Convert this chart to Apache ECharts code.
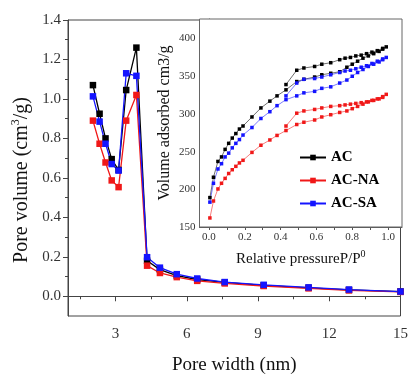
<!DOCTYPE html>
<html><head><meta charset="utf-8">
<script src="https://cdn.jsdelivr.net/npm/echarts@6/dist/echarts.min.js"></script>
<style>html,body{margin:0;padding:0;background:#fff}#c{width:411px;height:380px}</style>
</head><body><div id="c"></div>
<script>
// Main chart: pore size distribution
const seriesNames = ['AC', 'AC-NA', 'AC-SA'];
const poreWidth = [2.05, 2.33, 2.58, 2.84, 3.13, 3.45, 3.88, 4.33, 4.87, 5.58, 6.44, 7.6, 9.24, 11.13, 12.83, 15.0];
const poreAC   = [1.07, 0.925, 0.80, 0.695, 0.64, 1.045, 1.26, 0.18, 0.135, 0.105, 0.085, 0.07, 0.055, 0.043, 0.032, 0.024];
const poreNA   = [0.89, 0.773, 0.678, 0.587, 0.553, 0.89, 1.02, 0.155, 0.118, 0.097, 0.078, 0.065, 0.052, 0.04, 0.03, 0.022];
const poreSA   = [1.013, 0.885, 0.773, 0.67, 0.637, 1.13, 1.117, 0.198, 0.145, 0.112, 0.09, 0.072, 0.058, 0.045, 0.034, 0.024];
const mainXTicks = [3, 6, 9, 12, 15];
const mainXMinor = [1.5, 4.5, 7.5, 10.5, 13.5];
const mainYTicks = [0, 0.2, 0.4, 0.6, 0.8, 1.0, 1.2, 1.4];
const mainYMinor = [0.1, 0.3, 0.5, 0.7, 0.9, 1.1, 1.3];

// Inset: N2 isotherms (adsorption then desorption)
const adsP = [0.005, 0.025, 0.05, 0.07, 0.09, 0.11, 0.13, 0.15, 0.17, 0.19, 0.24, 0.29, 0.34, 0.38, 0.43, 0.49, 0.53, 0.59, 0.63, 0.68, 0.73, 0.77, 0.80, 0.83, 0.86, 0.89, 0.92, 0.95, 0.97, 0.99];
const desP = [0.97, 0.94, 0.91, 0.88, 0.85, 0.82, 0.79, 0.76, 0.73, 0.68, 0.63, 0.59, 0.53, 0.49, 0.43];
const adsAC = [189, 216, 237, 243, 253, 261, 268, 274, 280, 284, 296, 308, 317, 324, 332, 343, 346, 349, 352, 354, 356, 362, 366, 370, 374, 377, 380, 383, 386, 389];
const desAC = [387, 384, 382, 380, 378, 377, 375, 374, 372, 368, 366, 363, 361, 358, 339];
const adsNA = [162, 184.5, 200.5, 208, 214.5, 221, 226, 230.5, 235, 238.5, 249, 258.5, 265.5, 271.5, 278, 286, 289, 292, 296, 299, 302, 304, 307, 310, 313, 316, 318, 320, 322, 326];
const desNA = [323, 320, 318, 316, 315, 314, 313, 312, 311, 310, 308, 306, 304, 301, 284];
const adsSA = [183, 208, 227, 234, 243, 248, 255, 261, 266, 272, 282, 294, 303, 311, 319, 324, 328, 330, 334, 336, 341, 345, 350, 355, 359, 363, 366, 369, 372, 375];
const desSA = [373, 370, 367, 364, 362, 360, 358, 357, 355, 352, 349, 347, 346, 341, 324];
const insetXTicks = [0, 0.2, 0.4, 0.6, 0.8, 1.0];
const insetXAllTicks = [0, 0.1, 0.2, 0.3, 0.4, 0.5, 0.6, 0.7, 0.8, 0.9, 1.0];

const colors = ['#000000', '#f01818', '#1414ff'];
const serif = "'Liberation Serif','Times New Roman',serif";

function pairs(xs, ys) { return xs.map((x, i) => [x, ys[i]]); }
const mainData = [poreAC, poreNA, poreSA];
const isoData = [adsAC.concat(desAC), adsNA.concat(desNA), adsSA.concat(desSA)];
const isoP = adsP.concat(desP);

const chart = echarts.init(document.getElementById('c'), null, {renderer: 'canvas'});
const series = [];
seriesNames.forEach((n, i) => {
  series.push({
    name: n, type: 'line', xAxisIndex: 0, yAxisIndex: 0,
    data: pairs(poreWidth, mainData[i]),
    symbol: 'rect', symbolSize: 6.5, showSymbol: true,
    lineStyle: {color: colors[i], width: 1.3},
    itemStyle: {color: colors[i]}, animation: false, z: 3
  });
});
seriesNames.forEach((n, i) => {
  series.push({
    name: n, type: 'line', xAxisIndex: 2, yAxisIndex: 2,
    data: pairs(isoP, isoData[i]),
    symbol: 'rect', symbolSize: 3.5, showSymbol: true,
    lineStyle: {color: colors[i], width: 0.8, opacity: 0.7},
    itemStyle: {color: colors[i]}, animation: false, z: 5
  });
});

const axisCol = '#444';
chart.setOption({
  animation: false,
  backgroundColor: '#fff',
  grid: [
    {left: 68, right: 6, top: 20, bottom: 62, show: true, borderColor: axisCol, borderWidth: 1, z: 0},
    {left: 199.5, right: 9, top: 19, bottom: 153, show: true, borderColor: '#666', borderWidth: 1, backgroundColor: '#fff', z: 4}
  ],
  legend: {
    data: seriesNames, orient: 'vertical', left: 294, top: 145,
    itemWidth: 26, itemHeight: 7, itemGap: 8,
    textStyle: {fontFamily: serif, fontSize: 15, fontWeight: 'bold', color: '#000'},
    z: 10
  },
  xAxis: [
    {type: 'value', gridIndex: 0, min: 1, max: 15, position: 'bottom',
     name: 'Pore width (nm)', nameLocation: 'middle', nameGap: 40,
     nameTextStyle: {fontFamily: serif, fontSize: 19, color: '#111'},
     axisLine: {show: true, lineStyle: {color: axisCol, width: 1}},
     axisTick: {show: true, customValues: mainXTicks, length: 5, lineStyle: {color: axisCol}},
     axisLabel: {customValues: mainXTicks, fontFamily: serif, fontSize: 15, color: '#333', margin: 11},
     splitLine: {show: false}},
    {type: 'value', gridIndex: 0, min: 1, max: 15, position: 'bottom',
     axisLine: {show: false},
     axisTick: {show: true, customValues: mainXMinor, length: 3, lineStyle: {color: axisCol}},
     axisLabel: {show: false}, splitLine: {show: false}},
    {type: 'value', gridIndex: 1, min: -0.053, max: 1.078, position: 'bottom',
     name: '{a|Relative pressureP/P}{s|0}', nameLocation: 'middle', nameGap: 22,
     nameTextStyle: {rich: {
       a: {fontFamily: serif, fontSize: 15, color: '#111', verticalAlign: 'bottom', lineHeight: 18},
       s: {fontFamily: serif, fontSize: 10, color: '#111', verticalAlign: 'top', lineHeight: 18}}},
     axisLine: {show: true, lineStyle: {color: '#555', width: 1}},
     axisTick: {show: true, customValues: insetXAllTicks, length: 3, lineStyle: {color: '#555'}},
     axisLabel: {customValues: insetXTicks, fontFamily: serif, fontSize: 11, color: '#333', margin: 5,
       formatter: v => v.toFixed(1)},
     splitLine: {show: false}}
  ],
  yAxis: [
    {type: 'value', gridIndex: 0, min: -0.1, max: 1.4, position: 'left',
     name: '{a|Pore volume (cm}{s|3}{a|/g)}', nameLocation: 'middle', nameGap: 34, nameRotate: 90,
     nameTextStyle: {padding: [0, 24, 0, 0], rich: {
       a: {fontFamily: serif, fontSize: 20, color: '#111', verticalAlign: 'bottom', lineHeight: 22},
       s: {fontFamily: serif, fontSize: 12, color: '#111', verticalAlign: 'top', lineHeight: 22}}},
     axisLine: {show: true, lineStyle: {color: axisCol, width: 1}},
     axisTick: {show: true, customValues: mainYTicks, length: 5, lineStyle: {color: axisCol}},
     axisLabel: {customValues: mainYTicks, fontFamily: serif, fontSize: 15, color: '#333', margin: 7,
       formatter: v => v.toFixed(1)},
     splitLine: {show: false}},
    {type: 'value', gridIndex: 0, min: -0.1, max: 1.4, position: 'left',
     axisLine: {show: false},
     axisTick: {show: true, customValues: mainYMinor, length: 3, lineStyle: {color: axisCol}},
     axisLabel: {show: false}, splitLine: {show: false}},
    {type: 'value', gridIndex: 1, min: 150, max: 426, interval: 50, position: 'left',
     name: 'Volume adsorbed cm3/g', nameLocation: 'middle', nameGap: 27, nameRotate: 90,
     nameTextStyle: {fontFamily: serif, fontSize: 16, color: '#111'},
     axisLine: {show: true, lineStyle: {color: '#555', width: 1}},
     axisTick: {show: true, length: 3, lineStyle: {color: '#555'}},
     minorTick: {show: true, splitNumber: 2, length: 2, lineStyle: {color: '#555'}},
     axisLabel: {fontFamily: serif, fontSize: 11, color: '#333', margin: 4, showMaxLabel: false},
     splitLine: {show: false}}
  ],
  series: series
});
</script>
</body></html>
